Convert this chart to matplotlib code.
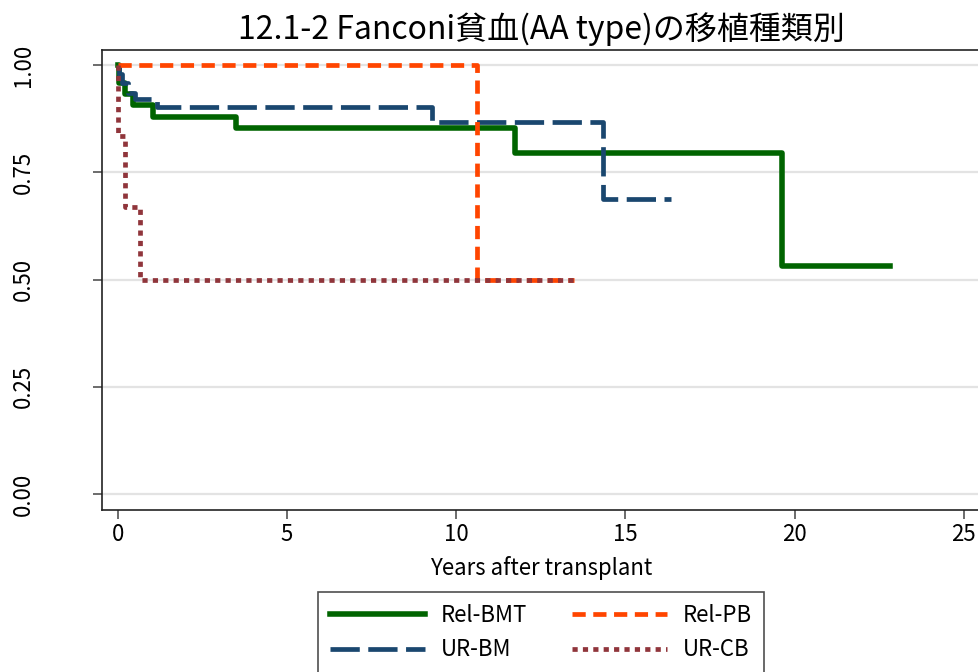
import numpy as np
import matplotlib
matplotlib.use("Agg")
import matplotlib.pyplot as plt

plt.rcParams['font.family'] = ['Noto Sans CJK JP', 'DejaVu Sans']

# Kaplan-Meier step data (time in years, survival)
relbmt_t = [0, 0.03, 0.21, 0.46, 1.04, 3.51, 11.74, 19.63, 22.82]
relbmt_s = [1.0, 0.958, 0.933, 0.906, 0.879, 0.853, 0.796, 0.531, 0.531]

urbm_t = [0, 0.05, 0.12, 0.30, 0.50, 1.15, 9.30, 14.33, 16.35]
urbm_s = [1.0, 0.980, 0.958, 0.935, 0.920, 0.903, 0.868, 0.689, 0.689]

relpb_t = [0, 10.62, 13.47]
relpb_s = [1.0, 0.5, 0.5]

urcb_t = [0, 0.02, 0.22, 0.66, 13.47]
urcb_s = [1.0, 0.835, 0.670, 0.5, 0.5]

labels = ['Rel-BMT', 'UR-BM', 'Rel-PB', 'UR-CB']
xticks = [0, 5, 10, 15, 20, 25]
yticks = [0, 0.25, 0.5, 0.75, 1.0]
ytick_labels = ['0.00', '0.25', '0.50', '0.75', '1.00']

fig = plt.figure(figsize=(9.79, 6.72), dpi=100)
ax = fig.add_axes([0.1042, 0.241, 0.8976, 0.6845])

l1, = ax.plot(relbmt_t, relbmt_s, drawstyle='steps-post', color='#006400',
              lw=4.0, solid_joinstyle='round', zorder=3, label=labels[0])
l2, = ax.plot(urbm_t, urbm_s, drawstyle='steps-post', color='#1a476f',
              lw=3.4, dashes=(6.2, 1.8), zorder=4, label=labels[1])
l3, = ax.plot(relpb_t, relpb_s, drawstyle='steps-post', color='#ff4500',
              lw=3.4, dashes=(2.8, 1.6), zorder=5, label=labels[2])
l4, = ax.plot(urcb_t, urcb_s, drawstyle='steps-post', color='#90353b',
              lw=3.4, dashes=(1.1, 1.1), zorder=6, label=labels[3])

ax.set_xlim(-0.46, 25.5)
ax.set_ylim(-0.037, 1.035)
ax.set_xticks(xticks)
ax.set_yticks(yticks)
ax.set_yticklabels(ytick_labels, rotation=90, va='center')
ax.grid(axis='y', color='#e3e3e3', lw=1.6)
ax.set_axisbelow(True)
for s in ax.spines.values():
    s.set_color('#222222')
    s.set_linewidth(1.2)
ax.tick_params(axis='both', length=6.5, width=1.1, color='#444444',
               labelsize=16)
ax.tick_params(axis='x', pad=3)
ax.tick_params(axis='y', pad=42)

ax.set_xlabel('Years after transplant', fontsize=16, labelpad=7)
ax.set_title('12.1-2 Fanconi貧血(AA type)の移植種類別', fontsize=23, pad=8)

leg = fig.legend(handles=[l1, l2, l3, l4], ncol=2,
                 loc='upper center', bbox_to_anchor=(541 / 979, 1 - 592 / 672),
                 borderaxespad=0, fontsize=16, frameon=True, fancybox=False,
                 handlelength=4.3, handletextpad=0.7, columnspacing=2.0,
                 labelspacing=0.5, borderpad=0.55)
leg.get_frame().set_edgecolor('#222222')
leg.get_frame().set_linewidth(1.2)

fig.savefig('out.png', dpi=100)
